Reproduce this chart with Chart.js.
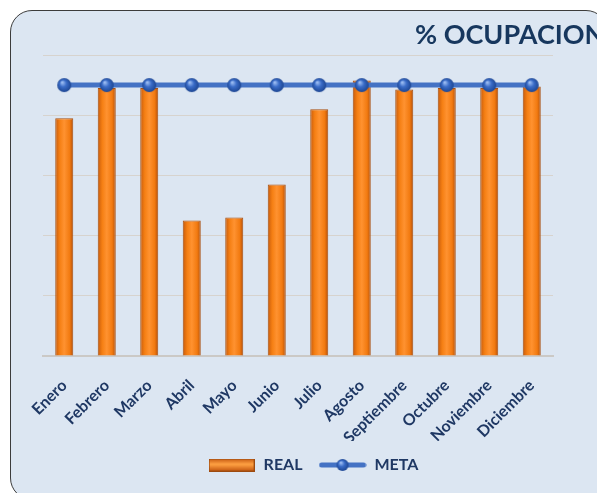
<!DOCTYPE html>
<html>
<head>
<meta charset="utf-8">
<script src="https://cdn.jsdelivr.net/npm/chart.js@4.4.1/dist/chart.umd.min.js"></script>
<style>
  html, body { margin: 0; padding: 0; background: #ffffff; overflow: hidden; }
  #wrap { position: relative; width: 597px; height: 493px; }
  #panel {
    position: absolute; left: 10px; top: 10px; width: 598px; height: 490px;
    box-sizing: border-box; border: 1.5px solid #3c3c3c; border-radius: 22px;
    background: #dce6f2;
  }
  canvas { position: absolute; left: 0; top: 0; }
</style>
</head>
<body>
<div id="wrap">
  <div id="panel"></div>
  <canvas id="chart" width="597" height="493"></canvas>
</div>
<script>
// --- data ---
const months = ['Enero', 'Febrero', 'Marzo', 'Abril', 'Mayo', 'Junio', 'Julio',
                'Agosto', 'Septiembre', 'Octubre', 'Noviembre', 'Diciembre'];
const realValues = [0.79, 0.89, 0.89, 0.45, 0.46, 0.57, 0.82, 0.915, 0.885, 0.89, 0.89, 0.895];
const metaValues = [0.9, 0.9, 0.9, 0.9, 0.9, 0.9, 0.9, 0.9, 0.9, 0.9, 0.9, 0.9];
const yTicks = [0, 0.2, 0.4, 0.6, 0.8, 1.0];

const NAVY = '#1f3864';
const FONT = 'Lato';

// glossy blue marker
function makeSphere(r) {
  const c = document.createElement('canvas');
  c.width = c.height = 2 * r + 2;
  const g = c.getContext('2d');
  const cx = r + 1;
  const grad = g.createRadialGradient(cx - r * 0.3, cx - r * 0.4, 0.5, cx, cx, r);
  grad.addColorStop(0, '#9dbdf2');
  grad.addColorStop(0.45, '#3a6cc8');
  grad.addColorStop(1, '#1d4693');
  g.fillStyle = grad;
  g.beginPath();
  g.arc(cx, cx, r, 0, Math.PI * 2);
  g.fill();
  return c;
}

function makeRealIcon() {
  const c = document.createElement('canvas');
  c.width = 46; c.height = 13;
  const g = c.getContext('2d');
  const grad = g.createLinearGradient(0, 0, 0, 13);
  grad.addColorStop(0, '#c4580f');
  grad.addColorStop(0.45, '#ffa244');
  grad.addColorStop(1, '#c0520b');
  g.fillStyle = grad;
  g.fillRect(0, 0, 46, 13);
  g.strokeStyle = '#9c4a10';
  g.lineWidth = 1;
  g.strokeRect(0.5, 0.5, 45, 12);
  return c;
}

function makeMetaIcon() {
  const c = document.createElement('canvas');
  c.width = 48; c.height = 14;
  const g = c.getContext('2d');
  g.strokeStyle = '#4472c4';
  g.lineWidth = 5;
  g.lineCap = 'round';
  g.beginPath();
  g.moveTo(3, 7); g.lineTo(45, 7);
  g.stroke();
  g.drawImage(makeSphere(6), 24 - 7, 0);
  return c;
}

const sphere = makeSphere(7);
const realIcon = makeRealIcon();
const metaIcon = makeMetaIcon();

// title drawn in the top right of the panel
const titlePlugin = {
  id: 'panelTitle',
  afterDraw(chart) {
    const ctx = chart.ctx;
    ctx.save();
    ctx.font = 'bold 27px ' + FONT;
    ctx.fillStyle = '#17375e';
    ctx.textBaseline = 'alphabetic';
    ctx.fillText('% OCUPACION', 415, 44);
    ctx.restore();
  }
};

function barGradient(context) {
  const chart = context.chart;
  const xScale = chart.scales.x;
  if (!chart.chartArea || !xScale) return '#f47b0e';
  const x = xScale.getPixelForValue(context.dataIndex);
  const g = chart.ctx.createLinearGradient(x - 9, 0, x + 9, 0);
  g.addColorStop(0, '#c65a0c');
  g.addColorStop(0.25, '#f57f13');
  g.addColorStop(0.5, '#ff9230');
  g.addColorStop(0.8, '#f27a10');
  g.addColorStop(1, '#b34e08');
  return g;
}

new Chart(document.getElementById('chart'), {
  type: 'bar',
  data: {
    labels: months,
    datasets: [
      {
        type: 'bar',
        label: 'REAL',
        data: realValues,
        backgroundColor: barGradient,
        borderColor: '#a85010',
        borderWidth: 1,
        barPercentage: 0.424,
        categoryPercentage: 1,
        order: 2
      },
      {
        type: 'line',
        label: 'META',
        data: metaValues,
        borderColor: '#4472c4',
        borderWidth: 5,
        pointStyle: sphere,
        pointRadius: 7,
        pointHoverRadius: 7,
        tension: 0,
        order: 1
      }
    ]
  },
  options: {
    responsive: false,
    animation: false,
    layout: { padding: { left: 43, right: 14, top: 55, bottom: 10 } },
    plugins: {
      tooltip: { enabled: false },
      legend: {
        position: 'bottom',
        labels: {
          usePointStyle: true,
          pointStyleWidth: 48,
          boxHeight: 14,
          padding: 16,
          color: NAVY,
          font: { family: FONT, size: 16, weight: 'bold' },
          generateLabels: () => [
            { text: 'REAL', pointStyle: realIcon, fontColor: NAVY, fillStyle: 'transparent',
              strokeStyle: 'transparent', lineWidth: 0, hidden: false, datasetIndex: 0 },
            { text: 'META', pointStyle: metaIcon, fontColor: NAVY, fillStyle: 'transparent',
              strokeStyle: 'transparent', lineWidth: 0, hidden: false, datasetIndex: 1 }
          ]
        }
      }
    },
    scales: {
      x: {
        grid: { display: false },
        border: { color: '#cbc9c6', width: 2 },
        ticks: {
          color: NAVY,
          font: { family: FONT, size: 16, weight: 'bold' },
          maxRotation: 45,
          minRotation: 45,
          autoSkip: false,
          padding: 12
        },
        afterFit(scale) { scale.height = 85; }
      },
      y: {
        min: 0,
        max: 1,
        afterBuildTicks(scale) { scale.ticks = yTicks.map(v => ({ value: v })); },
        ticks: { display: false },
        grid: { color: '#d7d3ce', lineWidth: 1, drawTicks: false },
        border: { display: false },
        afterFit(scale) { scale.width = 0; }
      },
      y2: {
        position: 'right',
        ticks: { display: false },
        grid: { display: false },
        border: { display: false },
        afterFit(scale) { scale.width = 30; }
      }
    }
  },
  plugins: [titlePlugin]
});
</script>
</body>
</html>
